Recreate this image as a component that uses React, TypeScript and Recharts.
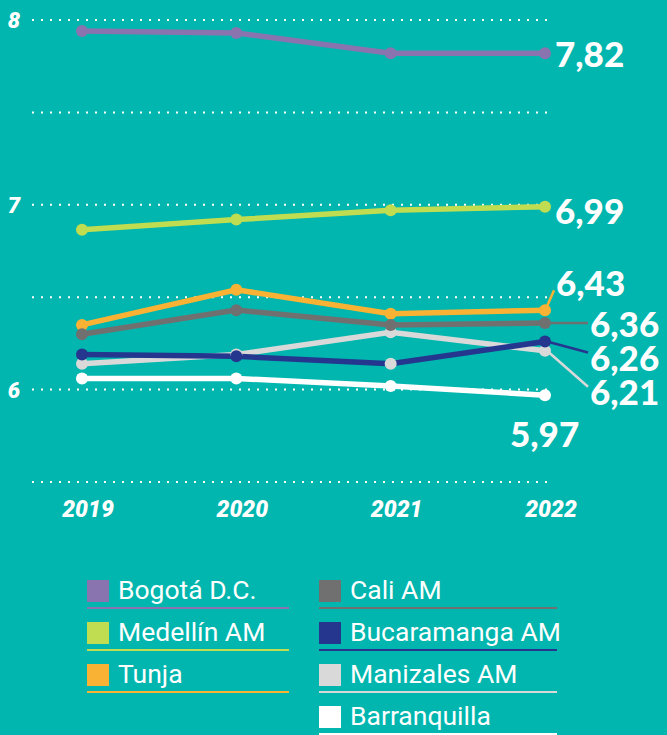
import React from "react";
import { LineChart, Line, XAxis, YAxis, CartesianGrid, LabelList } from "recharts";

const years = ["2019", "2020", "2021", "2022"];
const yTicks = [5.5, 6, 6.5, 7, 7.5, 8];

const bogota = [7.94, 7.93, 7.82, 7.82];
const medellin = [6.865, 6.92, 6.97, 6.99];
const tunja = [6.35, 6.54, 6.41, 6.43];
const cali = [6.3, 6.43, 6.35, 6.36];
const bucaramanga = [6.19, 6.18, 6.14, 6.26];
const manizales = [6.14, 6.19, 6.31, 6.21];
const barranquilla = [6.06, 6.06, 6.02, 5.97];

const BG = "#00b6ae";

// series in draw order (bottom first)
const series = [
  { key: "barranquilla", name: "Barranquilla", color: "#ffffff", values: barranquilla, label: "5,97", dx: -35, dy: 38, lead: false },
  { key: "manizales", name: "Manizales AM", color: "#d9d9d9", values: manizales, label: "6,21", dx: 45, dy: 40, lead: true },
  { key: "bucaramanga", name: "Bucaramanga AM", color: "#25368f", values: bucaramanga, label: "6,26", dx: 45, dy: 15, lead: true },
  { key: "tunja", name: "Tunja", color: "#f9b233", values: tunja, label: "6,43", dx: 11, dy: -28, lead: true },
  { key: "cali", name: "Cali AM", color: "#707070", values: cali, label: "6,36", dx: 45, dy: 0, lead: true },
  { key: "medellin", name: "Medellín AM", color: "#c0dc50", values: medellin, label: "6,99", dx: 10, dy: 3, lead: false },
  { key: "bogota", name: "Bogotá D.C.", color: "#8a74b0", values: bogota, label: "7,82", dx: 10, dy: 0, lead: false },
];

const legendLeft = ["bogota", "medellin", "tunja"];
const legendRight = ["cali", "bucaramanga", "manizales", "barranquilla"];

const data = years.map((y, i) => {
  const row: any = { year: y };
  series.forEach((s) => (row[s.key] = s.values[i]));
  return row;
});

const YTick = (props: any) => {
  const { y, payload } = props;
  if (payload.value % 1 !== 0) return null;
  return (
    <text x={14} y={y + 8} textAnchor="middle" fill="#fff" fontFamily="Roboto" fontWeight={900} fontStyle="italic" fontSize={22}>
      {payload.value}
    </text>
  );
};

const XTick = (props: any) => {
  const { x, y, payload } = props;
  return (
    <text x={x + 6} y={y + 33} textAnchor="middle" fill="#fff" fontFamily="Roboto" fontWeight={900} fontStyle="italic" fontSize={23}>
      {payload.value}
    </text>
  );
};

const endLabel = (s: any) => (props: any) => {
  const { x, y, index } = props;
  if (index !== years.length - 1) return null;
  const tx = x + s.dx;
  const ty = y + s.dy;
  return (
    <g>
      {s.lead && (
        <line x1={x + 2} y1={y + (s.dy < 0 ? -4 : 0)} x2={tx - 2} y2={ty + (s.dy < 0 ? 8 : s.dy > 0 ? -4 : 0)} stroke={s.color} strokeWidth={2.5} />
      )}
      <text x={tx} y={ty} dominantBaseline="central" fill="#fff" fontFamily="Lato" fontWeight={900} fontSize={35}>
        {s.label}
      </text>
    </g>
  );
};

const LegendItem = ({ k, left, top }: { k: string; left: number; top: number }) => {
  const s = series.find((d) => d.key === k)!;
  const w = left < 200 ? 202 : 238;
  return (
    <div style={{ position: "absolute", left, top, width: w, height: 27, borderBottom: `2px solid ${s.color}` }}>
      <div style={{ position: "absolute", left: 0, top: 0, width: 22, height: 22, background: s.color }} />
      <div style={{ position: "absolute", left: 31, top: -5, fontFamily: "Roboto", fontSize: 26.5, color: "#fff", whiteSpace: "nowrap", lineHeight: "30px" }}>
        {s.name}
      </div>
    </div>
  );
};

export default function App() {
  return (
    <div style={{ position: "absolute", left: 0, top: 0, width: 667, height: 735, background: BG, overflow: "hidden" }}>
      <LineChart width={667} height={541} data={data} margin={{ top: 20, right: 116, bottom: 9, left: 0 }}>
        <CartesianGrid vertical={false} stroke="#fff" strokeWidth={2} strokeDasharray="2 7" />
        <XAxis dataKey="year" padding={{ left: 50, right: 6 }} axisLine={false} tickLine={false} tickSize={0} height={50} tick={<XTick />} interval={0} />
        <YAxis domain={[5.5, 8]} ticks={yTicks} axisLine={false} tickLine={false} width={32} tick={<YTick />} interval={0} />
        {series.map((s) => (
          <Line
            key={s.key}
            dataKey={s.key}
            stroke={s.color}
            strokeWidth={5.5}
            dot={(p: any) => (
              <circle key={p.index} cx={p.cx} cy={p.cy} r={6} fill={s.key === "bucaramanga" && p.index === 2 ? "#d9d9d9" : s.color} />
            )}
            activeDot={false}
            isAnimationActive={false}
          >
            <LabelList dataKey={s.key} content={endLabel(s)} />
          </Line>
        ))}
      </LineChart>
      {legendLeft.map((k, i) => (
        <LegendItem key={k} k={k} left={87} top={580 + i * 42} />
      ))}
      {legendRight.map((k, i) => (
        <LegendItem key={k} k={k} left={319} top={580 + i * 42} />
      ))}
    </div>
  );
}
